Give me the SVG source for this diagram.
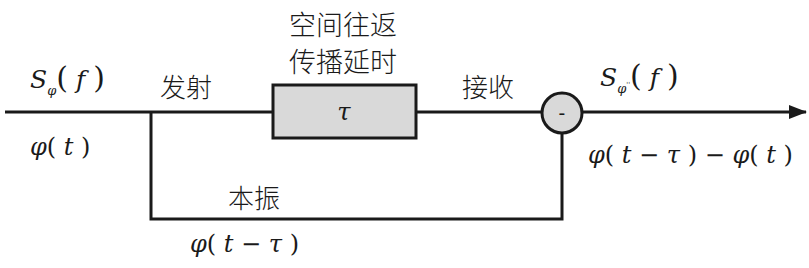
<svg xmlns="http://www.w3.org/2000/svg" width="809" height="268" viewBox="0 0 809 268">
<style>
.ln{stroke:#1a1a1a;stroke-width:3;fill:none}
.m{font-family:"DejaVu Serif","Liberation Serif",serif;font-style:italic;fill:#1a1a1a}
.u{font-family:"DejaVu Serif","Liberation Serif",serif;fill:#1a1a1a}
.cn{font-family:"Noto Sans CJK SC","Noto Sans CJK JP",sans-serif;fill:#1a1a1a;font-weight:300}
.r{font-style:normal}
</style>
<defs>
<marker id="ah" markerWidth="18" markerHeight="14" refX="17" refY="7" orient="auto" markerUnits="userSpaceOnUse">
<path d="M0,0 L18,7 L0,14 Z" fill="#1a1a1a"/>
</marker>
</defs>
<rect width="809" height="268" fill="#fff"/>
<g id="connectors">
<line class="ln" x1="5" y1="112" x2="273" y2="112"/>
<line class="ln" x1="416" y1="112" x2="542" y2="112"/>
<line class="ln" x1="583" y1="112" x2="806" y2="112" marker-end="url(#ah)"/>
<polyline class="ln" points="151,112 151,219 562,219 562,134"/>
</g>
<g id="delay">
<rect x="273" y="85" width="143" height="53" fill="#d9d9d9" stroke="#1a1a1a" stroke-width="3"/>
<text class="m" x="344" y="120" font-size="24" text-anchor="middle">τ</text>
</g>
<g id="mixer">
<circle cx="562" cy="113" r="20" fill="#d9d9d9" stroke="#1a1a1a" stroke-width="3"/>
<text class="u" x="562" y="120" font-size="20" text-anchor="middle">-</text>
</g>
<g id="labels">
<text class="m" x="30" y="88" font-size="25">S<tspan font-size="13" dy="7">φ</tspan><tspan class="r" font-size="30" dy="-7">(</tspan><tspan> f </tspan><tspan class="r" font-size="30">)</tspan></text>
<text class="m" x="30" y="155" font-size="24" xml:space="preserve">φ<tspan class="r">(</tspan> t <tspan class="r">)</tspan></text>
<text class="cn" x="160" y="97" font-size="26">发射</text>
<text class="cn" x="343" y="35" font-size="27" text-anchor="middle">空间往返</text>
<text class="cn" x="343" y="72" font-size="27" text-anchor="middle">传播延时</text>
<text class="cn" x="462" y="97" font-size="26">接收</text>
<text class="m" x="600" y="86" font-size="25">S<tspan font-size="13" dy="7">φ</tspan><tspan font-size="7" dy="-6">''</tspan><tspan class="r" font-size="30" dy="-1">(</tspan><tspan> f </tspan><tspan class="r" font-size="30">)</tspan></text>
<text class="m" x="588" y="163" font-size="24" xml:space="preserve">φ<tspan class="r">(</tspan> t <tspan class="r">−</tspan> τ <tspan class="r">)</tspan> <tspan class="r">−</tspan> φ<tspan class="r">(</tspan> t <tspan class="r">)</tspan></text>
<text class="cn" x="228" y="208" font-size="26">本振</text>
<text class="m" x="190" y="252" font-size="24" xml:space="preserve">φ<tspan class="r">(</tspan> t <tspan class="r">−</tspan> τ <tspan class="r">)</tspan></text>
</g>
</svg>
